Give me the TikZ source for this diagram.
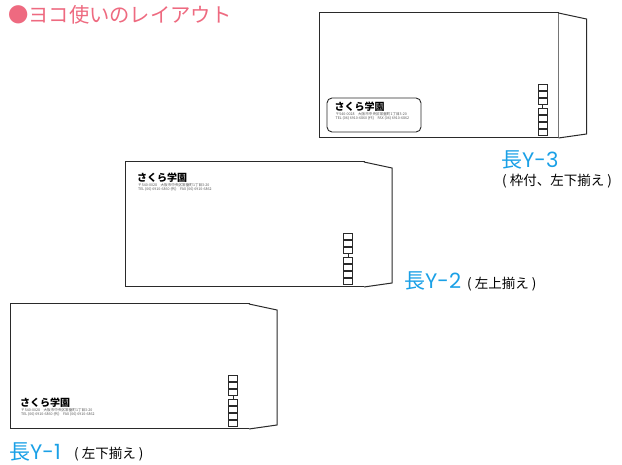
\documentclass[tikz,border=0pt]{standalone}
\usepackage{fontspec}
\setmainfont{Noto Sans CJK JP}
\newfontfamily\jp{Noto Sans CJK JP}
\newfontfamily\lat{Poppins}
\definecolor{titlepink}{HTML}{EE6A80}
\definecolor{labelcyan}{HTML}{1AA0E6}
\definecolor{envline}{HTML}{2A2A2A}
\definecolor{addrgray}{HTML}{555555}
\tikzset{
  envedge/.style={draw=envline,line width=1pt,fill=white},
  postbox/.style={draw=envline,line width=0.7pt},
  schoolname/.style={font=\jp\bfseries\fontsize{10}{10}\selectfont,inner sep=0pt,anchor=west},
  addr/.style={font=\jp\fontsize{3.6}{4}\selectfont,text=addrgray,inner sep=0pt,anchor=west},
  bigtype/.style={font=\jp\fontsize{21}{21}\selectfont,text=labelcyan,inner sep=0pt,anchor=base west,text height=16pt,text depth=1pt},
  smalltype/.style={font=\jp\fontsize{13.5}{13.5}\selectfont,inner sep=0pt,anchor=base west,text height=10.5pt,text depth=2pt},
}
\newcommand\envshape{%
  \draw[envedge] (0,0) rectangle (239,125);
  \draw[envedge] (239,0) -- (267,6) -- (267,121) -- (239,125);
  \foreach \i in {0,1,2}{\draw[postbox] (218.5,71+7*\i) rectangle (227.5,77+7*\i);}
  \draw[postbox] (223,92) -- (223,95);
  \foreach \j in {0,1,2,3}{\draw[postbox] (218.5,95+7*\j) rectangle (227.5,101+7*\j);}
}
\newcommand\addrA{〒540-0028　大阪市中央区常盤町1丁目3-20}
\newcommand\addrB{TEL (06) 6910-6860 (代)　FAX (06) 6910-6862}
\begin{document}
\begin{tikzpicture}[x=1pt,y=-1pt]
\useasboundingbox (0,0) rectangle (622,465);
% title
\node[font=\jp\fontsize{20.3}{20.3}\selectfont,text=titlepink,inner sep=0pt,anchor=west] (title) at (8,15) {●ヨコ使いのレイアウト};
% envelope 3
\begin{scope}[shift={(319.5,13)}]
  \envshape
  \draw[envline,line width=0.9pt,rounded corners=5pt] (7.5,85) rectangle (101.5,119) ;
  \node[schoolname] (n3) at (15,94) {さくら学園};
  \node[addr] (a3a) at (16,101.5) {\addrA};
  \node[addr] (a3b) at (16,105.5) {\addrB};
\end{scope}
% envelope 2
\begin{scope}[shift={(125,162)}]
  \envshape
  \node[schoolname] (n2) at (12,16) {さくら学園};
  \node[addr] (a2a) at (13,23.5) {\addrA};
  \node[addr] (a2b) at (13,27.5) {\addrB};
\end{scope}
% envelope 1
\begin{scope}[shift={(10,304)}]
  \envshape
  \node[schoolname] (n1) at (10,99) {さくら学園};
  \node[addr] (a1a) at (11,106.5) {\addrA};
  \node[addr] (a1b) at (11,110.5) {\addrB};
\end{scope}
% labels
\node[bigtype] (l3) at (501,168) {長{\lat Y-3}};
\node[smalltype] (s3) at (502,186) {(\kern3pt 枠付、左下揃え\kern3pt)};
\node[bigtype] (l2) at (404,289) {長{\lat Y-2}};
\node[smalltype] (s2) at (467,288.5) {(\kern3pt 左上揃え\kern3pt)};
\node[bigtype] (l1) at (9,459) {長{\lat Y-1}};
\node[smalltype] (s1) at (74,458.5) {(\kern3pt 左下揃え\kern3pt)};
\end{tikzpicture}
\end{document}
